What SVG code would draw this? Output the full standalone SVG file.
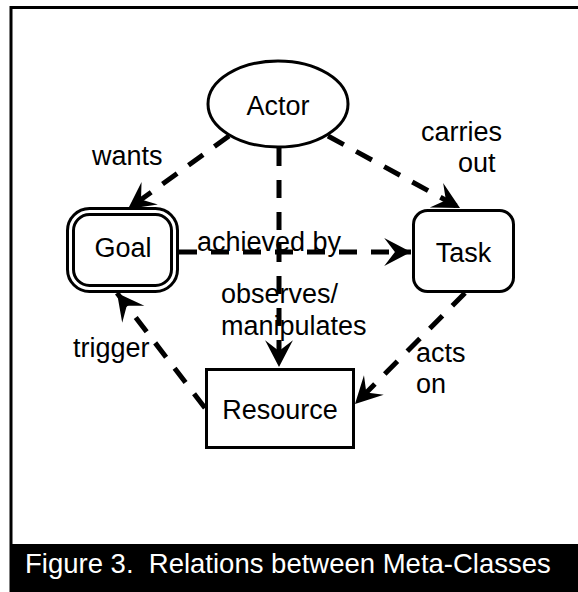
<svg xmlns="http://www.w3.org/2000/svg" width="578" height="592" viewBox="0 0 578 592">
  <style>
    .node { fill: #fff; stroke: #000; stroke-width: 3; }
    .label { font-family: "Liberation Sans", Arial, sans-serif; font-size: 27px; fill: #000; }
    .center { text-anchor: middle; }
    .edge { stroke: #000; stroke-width: 5; stroke-dasharray: 18 14; fill: none; marker-end: url(#head); }
    .caption { font-family: "Liberation Sans", Arial, sans-serif; font-size: 27.5px; fill: #fff; }
  </style>
  <defs>
    <marker id="head" markerUnits="userSpaceOnUse" markerWidth="30" markerHeight="30" viewBox="-26 -14 28 28" refX="0" refY="0" orient="auto">
      <path d="M0,0 L-25,-13 L-15,0 L-25,13 Z" fill="#000"/>
    </marker>
  </defs>

  <rect x="0" y="0" width="578" height="592" fill="#fff"/>

  <!-- frame and caption bar -->
  <g id="frame">
    <path d="M11,544 V7.5 H578" fill="none" stroke="#000" stroke-width="3"/>
    <rect x="9.5" y="544" width="568.5" height="48" fill="#000"/>
    <text class="caption" x="25" y="573" xml:space="preserve">Figure 3.  Relations between Meta-Classes</text>
  </g>

  <!-- connectors -->
  <g id="connectors">
    <line class="edge" x1="229" y1="136" x2="128" y2="209"/>
    <line class="edge" x1="328" y1="136" x2="460" y2="208"/>
    <line class="edge" x1="279" y1="148" x2="279" y2="367"/>
    <line class="edge" x1="179" y1="252" x2="411" y2="252"/>
    <line class="edge" x1="465" y1="293" x2="355" y2="404"/>
    <line class="edge" x1="205" y1="408" x2="117" y2="293"/>

    <text class="label" x="92" y="165">wants</text>
    <text class="label" x="421" y="141">carries</text>
    <text class="label" x="458" y="172">out</text>
    <text class="label" x="197" y="251">achieved by</text>
    <text class="label" x="221" y="303">observes/</text>
    <text class="label" x="221" y="335">manipulates</text>
    <text class="label" x="73" y="357">trigger</text>
    <text class="label" x="416" y="362">acts</text>
    <text class="label" x="416" y="393">on</text>
  </g>

  <g id="actor">
    <ellipse class="node" cx="278" cy="104" rx="70" ry="43"/>
    <text class="label center" x="278" y="115">Actor</text>
  </g>

  <g id="goal">
    <rect class="node" x="67.5" y="208.5" width="110" height="83" rx="22"/>
    <rect class="node" x="73.5" y="214.5" width="98" height="71" rx="16"/>
    <text class="label center" x="123" y="257">Goal</text>
  </g>

  <g id="task">
    <rect class="node" x="413.5" y="210.5" width="100" height="81" rx="14"/>
    <text class="label center" x="463.5" y="262">Task</text>
  </g>

  <g id="resource">
    <rect class="node" x="206.5" y="369.5" width="147" height="78"/>
    <text class="label center" x="280" y="419">Resource</text>
  </g>
</svg>
